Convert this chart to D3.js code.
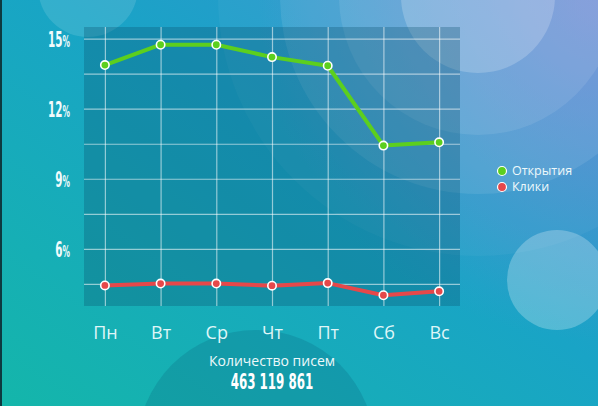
<!DOCTYPE html>
<html>
<head>
<meta charset="utf-8">
<script src="https://cdn.jsdelivr.net/npm/d3@7"></script>
<style>
  html, body { margin: 0; padding: 0; overflow: hidden; }
  svg { display: block; }
</style>
</head>
<body>
<script>
// data
var days = ["Пн", "Вт", "Ср", "Чт", "Пт", "Сб", "Вс"];
var opens = [13.87, 14.74, 14.74, 14.21, 13.84, 10.42, 10.56];
var clicks = [4.43, 4.51, 4.51, 4.42, 4.53, 4.01, 4.18];
var yTicks = [15, 12, 9, 6];
var seriesNames = ["Открытия", "Клики"];
var seriesColors = ["#5ccf1e", "#e5484a"];
var totalLabel = "Количество писем";
var totalValue = "463 119 861";

var W = 598, H = 406;
var svg = d3.select("body").append("svg")
	.attr("width", W)
	.attr("height", H);

var defs = svg.append("defs");
var grad = defs.append("linearGradient")
	.attr("id", "bg")
	.attr("x1", 0).attr("y1", 1)
	.attr("x2", 1).attr("y2", 0);
grad.append("stop").attr("offset", "0%").attr("stop-color", "#14b6aa");
grad.append("stop").attr("offset", "55%").attr("stop-color", "#19a4c6");
grad.append("stop").attr("offset", "100%").attr("stop-color", "#3590d2");

// purple tint top right
var tint = defs.append("radialGradient")
	.attr("id", "tint")
	.attr("gradientUnits", "userSpaceOnUse")
	.attr("cx", 598).attr("cy", 0).attr("r", 340);
tint.append("stop").attr("offset", "0%").attr("stop-color", "#8c84d6").attr("stop-opacity", 0.6);
tint.append("stop").attr("offset", "100%").attr("stop-color", "#8c84d6").attr("stop-opacity", 0);

svg.append("rect").attr("width", W).attr("height", H).attr("fill", "url(#bg)");
svg.append("rect").attr("width", W).attr("height", H).attr("fill", "url(#tint)");
svg.append("rect").attr("width", 2).attr("height", H).attr("fill", "#0d3a40");

// decorative circles
var deco = svg.append("g");
[260, 198, 139, 77].forEach(function(r, i) {
	deco.append("circle")
		.attr("cx", 478).attr("cy", -4).attr("r", r)
		.attr("fill", "#ffffff")
		.attr("opacity", i == 0 ? 0.04 : (i == 3 ? 0.2 : 0.09));
});
deco.append("circle").attr("cx", 88).attr("cy", -13).attr("r", 50)
	.attr("fill", "#ffffff").attr("opacity", 0.12);
deco.append("circle").attr("cx", 557).attr("cy", 280).attr("r", 50)
	.attr("fill", "#ffffff").attr("opacity", 0.25);
deco.append("circle").attr("cx", 256).attr("cy", 449).attr("r", 119)
	.attr("fill", "#0a5a78").attr("opacity", 0.22);

// scales
var pLeft = 84, pRight = 460, pTop = 27, pBottom = 306;
var xScale = d3.scalePoint().domain(days).range([pLeft, pRight]).padding(0.375);
var yScale = d3.scaleLinear().domain([3.55, 15.5]).range([pBottom, pTop]);

// plot background
svg.append("rect")
	.attr("x", pLeft).attr("y", pTop)
	.attr("width", pRight - pLeft).attr("height", pBottom - pTop)
	.attr("fill", "#0b4f6e").attr("opacity", 0.3);

// horizontal grid
svg.append("g")
	.attr("transform", "translate(" + pLeft + ",0)")
	.call(d3.axisLeft(yScale).tickValues(d3.range(4.5, 15.1, 1.5)).tickSize(-(pRight - pLeft)).tickFormat(""))
	.call(function(g) {
		g.select(".domain").remove();
		g.selectAll("line").attr("stroke", "#ffffff").attr("stroke-opacity", 0.55).attr("stroke-width", 1.2);
	});

// vertical grid
svg.append("g")
	.attr("transform", "translate(0," + pBottom + ")")
	.call(d3.axisBottom(xScale).tickSize(-(pBottom - pTop)).tickFormat(""))
	.call(function(g) {
		g.select(".domain").remove();
		g.selectAll("line").attr("stroke", "#ffffff").attr("stroke-opacity", 0.55).attr("stroke-width", 1.2);
	});

// y axis labels
var sx = 0.55;
svg.append("g")
	.attr("transform", "translate(" + pLeft + ",0)")
	.call(d3.axisLeft(yScale).tickValues(yTicks).tickSize(0).tickFormat(""))
	.call(function(g) {
		g.select(".domain").remove();
		g.selectAll(".tick text")
			.attr("transform", "scale(" + sx + ",1)")
			.attr("x", -14 / sx)
			.attr("dy", "0.36em")
			.attr("fill", "#f2fbfc")
			.attr("font-family", "DejaVu Sans Condensed, DejaVu Sans")
			.attr("font-weight", "bold")
			.attr("font-size", 21)
			.attr("text-anchor", "end")
			.each(function(d) {
				var t = d3.select(this);
				t.append("tspan").text(d);
				t.append("tspan").attr("font-size", 15).text("%");
			});
	});

// x axis labels
svg.append("g")
	.attr("transform", "translate(0," + pBottom + ")")
	.call(d3.axisBottom(xScale).tickSize(0).tickPadding(20))
	.call(function(g) {
		g.select(".domain").remove();
		g.selectAll(".tick text")
			.attr("fill", "#dff6f8")
			.attr("font-family", "Open Sans")
			.attr("font-size", 18);
	});

// lines
var line = d3.line()
	.x(function(d, i) { return xScale(days[i]); })
	.y(function(d) { return yScale(d); });

[opens, clicks].forEach(function(series, k) {
	svg.append("path")
		.datum(series)
		.attr("d", line)
		.attr("fill", "none")
		.attr("stroke", seriesColors[k])
		.attr("stroke-width", 4)
		.attr("stroke-linejoin", "round");
	svg.append("g").selectAll("circle")
		.data(series)
		.enter().append("circle")
		.attr("cx", function(d, i) { return xScale(days[i]); })
		.attr("cy", function(d) { return yScale(d); })
		.attr("r", 4.2)
		.attr("fill", seriesColors[k])
		.attr("stroke", "#ffffff")
		.attr("stroke-width", 1.6);
});

// legend
var legend = svg.append("g").selectAll("g")
	.data(seriesNames)
	.enter().append("g")
	.attr("transform", function(d, i) { return "translate(502," + (171 + i * 16) + ")"; });
legend.append("circle")
	.attr("r", 4.5)
	.attr("fill", function(d, i) { return seriesColors[i]; })
	.attr("stroke", "#ffffff")
	.attr("stroke-width", 1.2);
legend.append("text")
	.attr("x", 10)
	.attr("dy", "0.35em")
	.attr("fill", "#eef9fb")
	.attr("font-family", "Open Sans")
	.attr("font-size", 12.5)
	.text(function(d) { return d; });

// total
var cx = (pLeft + pRight) / 2;
svg.append("text")
	.attr("x", cx).attr("y", 366)
	.attr("text-anchor", "middle")
	.attr("fill", "#eef9fb")
	.attr("font-family", "Open Sans")
	.attr("font-size", 14)
	.text(totalLabel);
svg.append("text")
	.attr("transform", "translate(" + cx + ",389) scale(0.6,1)")
	.attr("text-anchor", "middle")
	.attr("fill", "#ffffff")
	.attr("font-family", "DejaVu Sans Condensed, DejaVu Sans")
	.attr("font-weight", "bold")
	.attr("font-size", 22)
	.text(totalValue);
</script>
</body>
</html>
